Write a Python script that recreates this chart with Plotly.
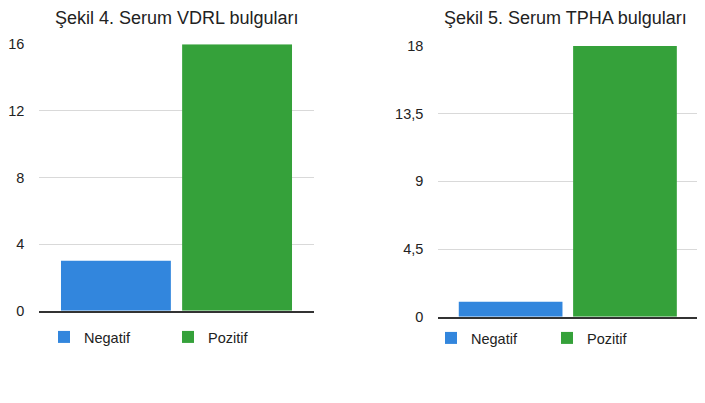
import plotly.graph_objects as go

# Data
series_names = ["Negatif", "Pozitif"]
vdrl_values = [3, 16]
tpha_values = [1, 18]
vdrl_ticks = [0, 4, 8, 12, 16]
vdrl_ticktext = ["0", "4", "8", "12", "16"]
tpha_ticks = [0, 4.5, 9, 13.5, 18]
tpha_ticktext = ["0", "4,5", "9", "13,5", "18"]
titles = ["Şekil 4. Serum VDRL bulguları", "Şekil 5. Serum TPHA bulguları"]
colors = ["#3286dd", "#35a13a"]

W, H = 705, 403
FONT = "Liberation Sans, Arial, sans-serif"

fig = go.Figure()

for i, name in enumerate(series_names):
    fig.add_trace(go.Bar(
        x=["VDRL"], y=[vdrl_values[i]], name=name,
        marker=dict(color=colors[i], line=dict(width=0)),
        xaxis="x", yaxis="y", legend="legend",
    ))
for i, name in enumerate(series_names):
    fig.add_trace(go.Bar(
        x=["TPHA"], y=[tpha_values[i]], name=name,
        marker=dict(color=colors[i], line=dict(width=0)),
        xaxis="x2", yaxis="y2", legend="legend2",
    ))

def px_x(p):
    return p / W

def px_y(p):
    return 1 - p / H

axis_common = dict(showticklabels=False, ticks="", showgrid=False,
                   showline=True, linecolor="#333333", linewidth=1.5,
                   zeroline=False, fixedrange=True, automargin=False)
yaxis_common = dict(showgrid=True, gridcolor="#d9d9d9", gridwidth=1,
                    zeroline=False, showline=False, ticks="",
                    tickfont=dict(size=14.5, color="#222222", family=FONT),
                    ticklabelstandoff=14, fixedrange=True, automargin=False)

fig.update_layout(
    width=W, height=H,
    margin=dict(l=0, r=0, t=0, b=0, autoexpand=False),
    paper_bgcolor="white", plot_bgcolor="white",
    font=dict(family=FONT, color="#222222"),
    barmode="group", bargap=0.117, bargroupgap=0.093,
    xaxis=dict(domain=[px_x(39.3), px_x(313.7)], anchor="y", **axis_common),
    yaxis=dict(domain=[px_y(310.7), px_y(44.3)], anchor="x", range=[0, 16],
               tickvals=vdrl_ticks, ticktext=vdrl_ticktext, **yaxis_common),
    xaxis2=dict(domain=[px_x(438.3), px_x(697.3)], anchor="y2", **axis_common),
    yaxis2=dict(domain=[px_y(316.7), px_y(46)], anchor="x2", range=[0, 18],
                tickvals=tpha_ticks, ticktext=tpha_ticktext, **yaxis_common),
    legend=dict(orientation="h", x=px_x(44), xanchor="left", y=px_y(337), yanchor="middle",
                entrywidth=79, entrywidthmode="pixels",
                font=dict(size=14.5, color="#222222", family=FONT),
                bgcolor="rgba(0,0,0,0)", traceorder="normal"),
    legend2=dict(orientation="h", x=px_x(431), xanchor="left", y=px_y(338), yanchor="middle",
                 entrywidth=71, entrywidthmode="pixels",
                 font=dict(size=14.5, color="#222222", family=FONT),
                 bgcolor="rgba(0,0,0,0)", traceorder="normal"),
    annotations=[
        dict(text=titles[0], x=px_x(176), y=px_y(18), xref="paper", yref="paper",
             xanchor="center", yanchor="middle", showarrow=False,
             font=dict(size=18, color="#222222", family=FONT)),
        dict(text=titles[1], x=px_x(565), y=px_y(18), xref="paper", yref="paper",
             xanchor="center", yanchor="middle", showarrow=False,
             font=dict(size=18, color="#222222", family=FONT)),
    ],
)

fig.write_html("out.html")
